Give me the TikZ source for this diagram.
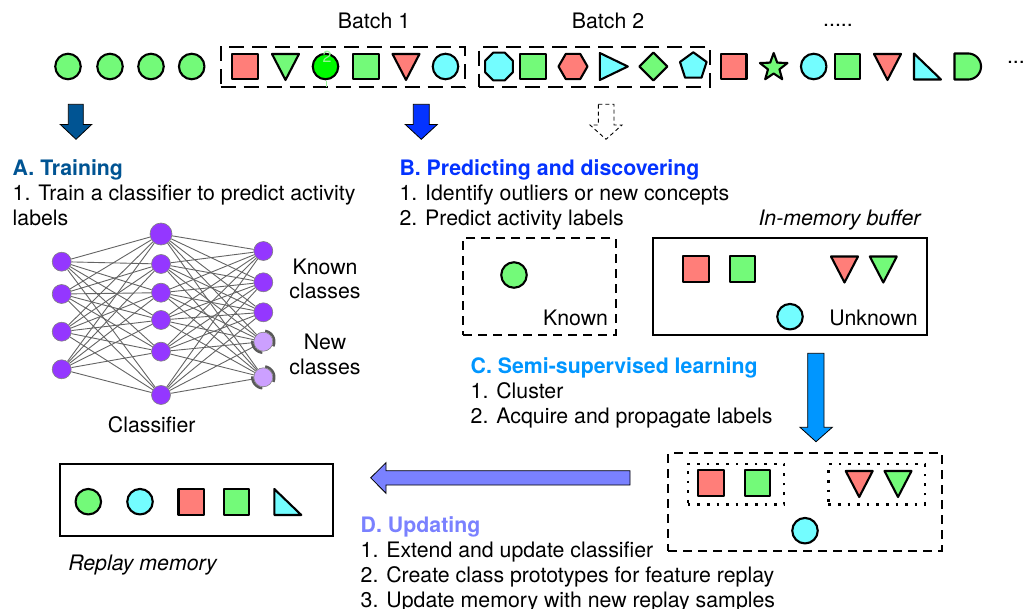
\documentclass[tikz,border=0pt]{standalone}
\usepackage{fontspec}
\setmainfont{TeX Gyre Heros}
\usetikzlibrary{backgrounds}
\definecolor{cgreen}{RGB}{115,250,121}
\definecolor{cred}{RGB}{255,126,121}
\definecolor{ccyan}{RGB}{115,253,255}
\definecolor{cbright}{RGB}{0,249,0}
\definecolor{cA}{RGB}{0,84,147}
\definecolor{cB}{RGB}{4,51,255}
\definecolor{cC}{RGB}{0,150,255}
\definecolor{cD}{RGB}{122,129,255}
\definecolor{cpurple}{RGB}{148,55,255}
\definecolor{clpurple}{RGB}{204,160,255}
\definecolor{cedge}{RGB}{100,100,100}
\definecolor{ctwo}{RGB}{150,245,150}
\tikzset{
 shp/.style={draw=black, line width=2.1pt, line join=round},
 circ/.style={shp, circle, minimum size=25.5pt, inner sep=0pt},
 sqr/.style={shp, rectangle, minimum size=25.5pt, inner sep=0pt},
 txt/.style={inner sep=0pt, outer sep=0pt, font=\fontsize{21.3}{25}\selectfont},
 ttl/.style={inner sep=0pt, outer sep=0pt, font=\fontsize{21.3}{25}\selectfont\bfseries},
 batchbox/.style={draw, line width=2.2pt, dash pattern=on 15pt off 8pt, inner sep=0pt},
 dbox/.style={draw, line width=2.2pt, dash pattern=on 9pt off 6pt, inner sep=0pt},
 sbox/.style={draw, line width=2.2pt, inner sep=0pt},
 dotbox/.style={draw, line width=2.4pt, dash pattern=on 2.6pt off 7pt, inner sep=0pt},
 neuron/.style={circle, fill=cpurple, draw=gray, line width=0.6pt, minimum size=19pt, inner sep=0pt},
 newneuron/.style={neuron, fill=clpurple},
 synapse/.style={draw=cedge, line width=0.9pt},
 newarc/.style={draw=black!65, line width=2.4pt},
 blockarrow/.style={draw=black, line width=0.8pt, line join=miter},
}
\newcommand\mytridown[3]{\draw[shp,fill=#3,shift={(#1,#2)}] (-13.5,-12.5) -- (13.5,-12.5) -- (0,13.5) -- cycle;}
\newcommand\mybox[6]{\node[#1, minimum width={#4-#2}, minimum height={#5-#3}] (#6) at ({(#2+#4)/2},{(#3+#5)/2}) {};}
\begin{document}
\begin{tikzpicture}[x=1pt,y=-1pt]
\begin{pgfonlayer}{background}
\fill[white] (0,0) rectangle (1023,609);
\end{pgfonlayer}
\useasboundingbox (0,0) rectangle (1023,609);

% ---------- stream ----------
\node[txt, anchor=base] (b1lab) at (374,29) {Batch 1};
\node[txt, anchor=base] (b2lab) at (608,29) {Batch 2};
\node[txt, anchor=base] (dots1) at (838,27) {.....};
\node[txt, anchor=base west] (dots2) at (1007,63.5) {...};

\mybox{batchbox}{220.7}{46.7}{465}{87.3}{batch1}
\mybox{batchbox}{479.3}{46.7}{710}{87.3}{batch2}

\node[circ, fill=cgreen] (s1) at (68,66.5) {};
\node[circ, fill=cgreen] (s2) at (110,66.5) {};
\node[circ, fill=cgreen] (s3) at (151,66.5) {};
\node[circ, fill=cgreen] (s4) at (191.7,66.5) {};
% batch 1
\node[sqr, fill=cred] (s5) at (245,66.5) {};
\mytridown{285.5}{66.5}{cgreen}
\node[circ, fill=cbright] (s7) at (325.5,66.5) {};
\node[sqr, fill=cgreen] (s8) at (366,66.5) {};
\mytridown{406}{66.5}{cred}
\node[circ, fill=ccyan] (s10) at (445.5,66.5) {};
\node[txt, font=\fontsize{16}{16}\selectfont, text=ctwo, anchor=base] (two) at (327,63) {2};
\draw[ctwo, line width=0.8pt] (326,81.5) -- (326,87);
% batch 2
\draw[shp, fill=ccyan, shift={(499,66.5)}] (22.5:15) -- (67.5:15) -- (112.5:15) -- (157.5:15) -- (202.5:15) -- (247.5:15) -- (292.5:15) -- (337.5:15) -- cycle;
\node[sqr, fill=cgreen] (s12) at (533,66.5) {};
\draw[shp, fill=cred, shift={(573,66.5)}] (0:14.5) -- (60:14.5) -- (120:14.5) -- (180:14.5) -- (240:14.5) -- (300:14.5) -- cycle;
\draw[shp, fill=ccyan, shift={(613.3,66.5)}] (-13.5,-13.5) -- (14.5,0) -- (-13.5,13.5) -- cycle;
\draw[shp, fill=cgreen, shift={(653.3,66.5)}] (0,-14) -- (14,0) -- (0,14) -- (-14,0) -- cycle;
\draw[shp, fill=ccyan, shift={(693.3,66.3)}] (-90:14) -- (-18:14) -- (54:14) -- (126:14) -- (198:14) -- cycle;
% after
\node[sqr, fill=cred] (s17) at (733.7,66.5) {};
\draw[shp, fill=cgreen, shift={(773.7,67.5)}] (-90:14.5) -- (-54:6) -- (-18:14.5) -- (18:6) -- (54:14.5) -- (90:6) -- (126:14.5) -- (162:6) -- (198:14.5) -- (234:6) -- cycle;
\node[circ, fill=ccyan] (s19) at (813.7,66.5) {};
\node[sqr, fill=cgreen] (s20) at (847.5,66.5) {};
\mytridown{887.5}{66.5}{cred}
\draw[shp, fill=ccyan, shift={(927.5,66.5)}] (-13.5,-13) -- (-13.5,13) -- (13.5,13) -- cycle;
\draw[shp, fill=cgreen, shift={(968,66.5)}] (-13.5,-13) -- (0,-13) -- plot[domain=-90:90, samples=30] ({13*cos(\x)},{13*sin(\x)}) -- (-13.5,13) -- cycle;

% ---------- arrows from stream ----------
\draw[blockarrow, fill=cA] (68.3,104.3) -- (83.3,104.3) -- (83.3,124.5) -- (91.7,124.5) -- (76,139.3) -- (60.3,124.5) -- (68.3,124.5) -- cycle;
\draw[blockarrow, fill=cB] (413.3,104.3) -- (429.3,104.3) -- (429.3,124.5) -- (437.3,124.5) -- (421.3,139.3) -- (405.3,124.5) -- (413.3,124.5) -- cycle;
\draw[draw=black, line width=0.9pt, dash pattern=on 4pt off 3pt, fill=white] (598.3,104.3) -- (614,104.3) -- (614,125) -- (622,125) -- (606,139.3) -- (590,125) -- (598.3,125) -- cycle;

% ---------- A ----------
\node[ttl, text=cA, anchor=base west] (ttlA) at (12.7,176) {A. Training};
\node[txt, anchor=base west] (a1) at (12.7,201) {1. Train a classifier to predict activity};
\node[txt, anchor=base west] (a2) at (12.7,226) {labels};

\foreach \i/\y in {1/261.7,2/294,3/331.7,4/369.3} \node[neuron] (L\i) at (61.7,\y) {};
\node[neuron, minimum size=22pt] (M1) at (161,234) {};
\foreach \i/\y in {2/264,3/292.7,4/320,5/351.7,6/395} \node[neuron] (M\i) at (161,\y) {};
\foreach \i/\y in {1/251,2/282.3,3/312.3} \node[neuron] (R\i) at (263.3,\y) {};
\node[newneuron] (R4) at (263.3,341.7) {};
\node[newneuron] (R5) at (263.3,377.3) {};
\begin{pgfonlayer}{background}
\foreach \a in {1,...,4} \foreach \b in {1,...,6} \draw[synapse] (L\a) -- (M\b);
\foreach \a in {1,...,6} \foreach \b in {1,...,5} \draw[synapse] (M\a) -- (R\b);
\end{pgfonlayer}
\foreach \n in {R4,R5} {
  \draw[newarc, shift={(\n.center)}] plot[domain=-80:25, samples=20] ({11*cos(\x)},{11*sin(\x)});
  \draw[newarc, shift={(\n.center)}] plot[domain=95:185, samples=20] ({11*cos(\x)},{11*sin(\x)});
}
\node[txt, anchor=base] (kc1) at (325,275) {Known};
\node[txt, anchor=base] (kc2) at (325,298.5) {classes};
\node[txt, anchor=base] (nc1) at (325,350) {New};
\node[txt, anchor=base] (nc2) at (325,375) {classes};
\node[txt, anchor=base] (clf) at (151.7,433) {Classifier};

% ---------- B ----------
\node[ttl, text=cB, anchor=base west] (ttlB) at (399.5,176) {B. Predicting and discovering};
\node[txt, anchor=base west] (b1) at (399.5,201) {1. Identify outliers or new concepts};
\node[txt, anchor=base west] (b2) at (399.5,225.5) {2. Predict activity labels};
\node[txt, anchor=base, font=\fontsize{21.3}{25}\selectfont\itshape] (buflab) at (839.5,225.5) {In-memory buffer};

\mybox{dbox}{463.3}{238.3}{616}{335}{known}
\node[circ, fill=cgreen] (k1) at (514,275) {};
\node[txt, anchor=base east] (knownlab) at (608,325.5) {Known};

\mybox{sbox}{653.3}{238.3}{926.7}{335}{buffer}
\node[sqr, fill=cred] (u1) at (696,269) {};
\node[sqr, fill=cgreen] (u2) at (742.3,269) {};
\mytridown{844.5}{269}{cred}
\mytridown{883.3}{269}{cgreen}
\node[circ, fill=ccyan] (u5) at (790,316.7) {};
\node[txt, anchor=base west] (unklab) at (829.3,325.5) {Unknown};

% ---------- C ----------
\node[ttl, text=cC, anchor=base west] (ttlC) at (470.7,374) {C. Semi-supervised learning};
\node[txt, anchor=base west] (c1) at (470.7,399) {1. Cluster};
\node[txt, anchor=base west] (c2) at (470.7,424) {2. Acquire and propagate labels};
\draw[blockarrow, fill=cC] (807.7,353.3) -- (824,353.3) -- (824,427.3) -- (832.3,427.3) -- (816,441.7) -- (800,427.3) -- (807.7,427.3) -- cycle;

\mybox{dbox}{668.3}{453.3}{941.7}{550.7}{clusters}
\mybox{dotbox}{687.7}{464}{784}{504.3}{clusterA}
\mybox{dotbox}{828.3}{464}{925}{504.3}{clusterB}
\node[sqr, fill=cred] (v1) at (710.8,483) {};
\node[sqr, fill=cgreen] (v2) at (757.5,483) {};
\mytridown{859.2}{483.5}{cred}
\mytridown{898}{483.5}{cgreen}
\node[circ, fill=ccyan] (v5) at (805,530.7) {};

% ---------- D ----------
\draw[blockarrow, fill=cD] (630,470.7) -- (386,470.7) -- (386,462.7) -- (370.7,477.8) -- (386,493.3) -- (386,485) -- (630,485) -- cycle;
\node[ttl, text=cD, anchor=base west] (ttlD) at (360.7,532.5) {D. Updating};
\node[txt, anchor=base west] (d1) at (360.7,557.3) {1. Extend and update classifier};
\node[txt, anchor=base west] (d2) at (360.7,582.3) {2. Create class prototypes for feature replay};
\node[txt, anchor=base west] (d3) at (360.7,607) {3. Update memory with new replay samples};

\mybox{sbox}{60}{464}{333.3}{535.7}{replay}
\node[circ, fill=cgreen] (r1) at (88.3,501.7) {};
\node[circ, fill=ccyan] (r2) at (140,501.7) {};
\node[sqr, fill=cred] (r3) at (191.2,502) {};
\node[sqr, fill=cgreen] (r4) at (236.3,502) {};
\draw[shp, fill=ccyan, shift={(287.8,502)}] (-13.5,-13) -- (-13.5,13) -- (13.5,13) -- cycle;
\node[txt, anchor=base west, font=\fontsize{21.3}{25}\selectfont\itshape] (replaylab) at (68.3,570) {Replay memory};
\end{tikzpicture}
\end{document}
